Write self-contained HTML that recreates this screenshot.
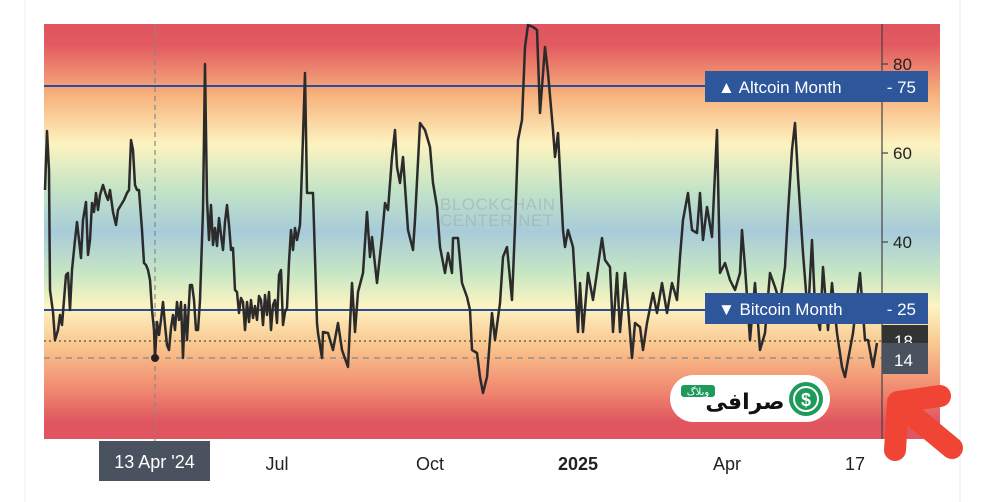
<!DOCTYPE html>
<html><head><meta charset="utf-8"><style>
html,body{margin:0;padding:0;background:#fff;}
body{width:1000px;height:502px;position:relative;overflow:hidden;font-family:"Liberation Sans","DejaVu Sans",sans-serif;}
</style></head><body>
<svg width="1000" height="502" viewBox="0 0 1000 502" xmlns="http://www.w3.org/2000/svg" style="position:absolute;left:0;top:0">
<defs>
<linearGradient id="bg" x1="0" y1="0" x2="0" y2="1">
<stop offset="0" stop-color="#e05560"/>
<stop offset="0.05" stop-color="#e25a60"/>
<stop offset="0.17" stop-color="#f7b17c"/>
<stop offset="0.29" stop-color="#fdf3c0"/>
<stop offset="0.40" stop-color="#c3e4c6"/>
<stop offset="0.50" stop-color="#a8cbd9"/>
<stop offset="0.60" stop-color="#c6e6c4"/>
<stop offset="0.68" stop-color="#fdf4c2"/>
<stop offset="0.78" stop-color="#f9c38c"/>
<stop offset="0.88" stop-color="#f08a70"/>
<stop offset="0.96" stop-color="#e05560"/>
<stop offset="1" stop-color="#e05560"/>
</linearGradient>
</defs>
<line x1="25" y1="0" x2="25" y2="502" stroke="#eee"/>
<line x1="960" y1="0" x2="960" y2="502" stroke="#eee"/>
<rect x="44" y="24" width="896" height="415" fill="url(#bg)"/>
<text x="440" y="210" font-size="17" fill="#9aa" opacity="0.5" letter-spacing="0.5">BLOCKCHAIN</text>
<text x="440" y="226" font-size="17" fill="#9aa" opacity="0.5" letter-spacing="0.5">CENTER.NET</text>
<line x1="44" y1="86" x2="882" y2="86" stroke="#2a4d9a" stroke-width="2"/>
<line x1="44" y1="310" x2="882" y2="310" stroke="#2a4d9a" stroke-width="2"/>
<line x1="44" y1="341" x2="882" y2="341" stroke="#554" stroke-width="1.2" stroke-dasharray="2,3"/>
<line x1="44" y1="358" x2="882" y2="358" stroke="#888" stroke-width="1.2" stroke-dasharray="6,5"/>
<line x1="155" y1="24" x2="155" y2="442" stroke="#888" stroke-width="1.2" stroke-dasharray="5,4"/>
<polyline fill="none" stroke="#2b2b2b" stroke-width="2.5" stroke-linejoin="round" points="45,190 47,131 49,170 50,290 53,312 55,340 58,330 60,315 62,325 64,300 66,275 68,273 70,310 72,270 75,240 77,222 79,240 81,258 83,220 86,202 88,255 90,240 92,203 94,212 96,193 98,210 100,195 103,185 106,195 108,200 110,190 113,212 116,225 118,210 121,205 124,200 127,193 129,190 131,140 133,150 135,185 137,190 139,190 142,230 144,263 146,265 148,270 150,280 152,310 154,330 155,358 157,322 159,335 161,320 163,302 165,325 167,345 169,350 171,328 173,315 175,330 177,302 179,320 181,302 183,358 185,305 187,340 190,285 192,285 194,300 196,330 198,330 200,300 203,210 205,64 207,200 209,240 211,205 213,245 215,228 217,246 219,218 221,235 223,250 225,222 227,205 229,225 231,250 233,248 235,290 237,292 239,313 241,298 243,302 245,330 247,302 249,322 251,300 253,318 255,306 257,320 259,296 261,300 263,325 265,295 267,315 269,292 271,330 273,305 275,300 277,323 279,275 281,270 283,325 285,312 287,308 289,262 291,230 293,250 295,228 297,240 300,225 302,168 305,73 307,193 313,193 317,323 318,333 322,358 323,332 328,333 333,350 338,323 342,350 348,367 352,283 355,332 358,292 363,273 367,212 370,257 372,237 377,283 382,237 385,203 388,210 392,157 395,130 397,167 400,183 403,157 408,230 413,250 415,220 420,123 425,130 430,147 433,183 437,207 440,247 445,273 448,253 452,273 453,238 458,238 462,283 467,297 470,310 472,350 477,353 480,377 483,393 487,377 492,313 495,340 500,303 503,257 507,247 512,300 515,227 518,140 522,120 525,47 528,25 533,27 537,30 540,113 545,47 548,73 553,130 555,157 558,133 563,230 565,247 568,230 573,247 578,332 580,283 583,332 588,273 593,300 602,238 605,260 610,267 613,332 617,273 620,332 625,273 628,307 632,358 635,323 640,327 643,350 647,323 653,293 657,313 662,283 667,313 672,283 677,300 680,257 683,220 688,193 692,230 697,233 700,193 703,240 707,207 712,237 717,130 720,273 725,263 730,280 735,290 740,273 742,230 745,267 750,340 755,283 760,350 765,333 770,273 775,287 780,303 785,267 788,213 792,150 795,123 798,177 803,253 808,317 812,240 815,307 820,330 823,267 828,330 832,283 837,333 842,367 845,377 848,360 853,333 860,273 865,340 868,340 873,367 877,343"/>
<circle cx="155" cy="358" r="4" fill="#222"/>
<line x1="882" y1="24" x2="882" y2="439" stroke="#444" stroke-width="1.2"/>
<g stroke="#444" stroke-width="1.2"><line x1="882" y1="64" x2="888" y2="64"/><line x1="882" y1="153" x2="888" y2="153"/><line x1="882" y1="242" x2="888" y2="242"/></g>
<g font-size="17" fill="#222"><text x="893" y="70">80</text><text x="893" y="159">60</text><text x="893" y="248">40</text></g>
<rect x="705" y="71" width="223" height="31" fill="#2d569b"/>
<text x="718" y="93" font-size="17" fill="#fff">▲ Altcoin Month</text>
<text x="916" y="93" font-size="17" fill="#fff" text-anchor="end">-  75</text>
<rect x="705" y="293" width="223" height="31" fill="#2d569b"/>
<text x="718" y="315" font-size="17" fill="#fff">▼ Bitcoin Month</text>
<text x="916" y="315" font-size="17" fill="#fff" text-anchor="end">-  25</text>
<rect x="882" y="325" width="46" height="18" fill="#333"/>
<text x="894" y="347" font-size="17" fill="#fff">18</text>
<rect x="882" y="343" width="46" height="31" fill="#4a5260"/>
<text x="894" y="366" font-size="17" fill="#fff">14</text>
<rect x="99" y="441" width="111" height="40" fill="#4a5260"/>
<text x="154.5" y="468" font-size="18" fill="#fff" text-anchor="middle">13 Apr '24</text>
<g font-size="18" fill="#222" text-anchor="middle"><text x="277" y="470">Jul</text><text x="430" y="470">Oct</text><text x="578" y="470" font-weight="bold">2025</text><text x="727" y="470">Apr</text><text x="855" y="470">17</text></g>
<rect x="670" y="375" width="160" height="47" rx="23.5" fill="#fff"/>
<circle cx="806" cy="399" r="17" fill="#1e9a5a"/>
<circle cx="806" cy="399" r="12" fill="none" stroke="#fff" stroke-width="2"/>
<text x="806" y="406" font-size="18" font-weight="bold" fill="#fff" text-anchor="middle">$</text>
<text x="745" y="409" font-size="22" font-weight="bold" fill="#111" text-anchor="middle" font-family="'DejaVu Sans',sans-serif">صرافی</text>
<rect x="681" y="385" width="34" height="12" rx="3" fill="#1e9a5a"/>
<text x="698" y="395" font-size="10" fill="#fff" text-anchor="middle" font-family="'DejaVu Sans',sans-serif">وبلاگ</text>
<g stroke="#f04535" stroke-width="22" stroke-linecap="round" stroke-linejoin="round" fill="none">
<path d="M940,396 L898,402 L895,450"/>
<path d="M900,405 L952,448"/>
</g>
</svg>
</body></html>
